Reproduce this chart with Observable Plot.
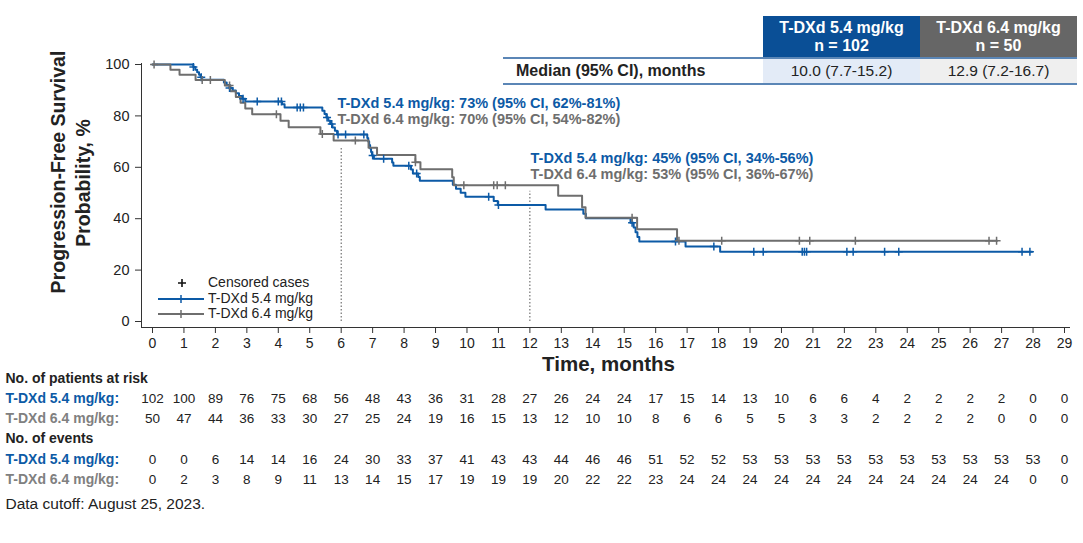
<!DOCTYPE html>
<html><head><meta charset="utf-8">
<script src="https://cdn.jsdelivr.net/npm/d3@7"></script>
<script src="https://cdn.jsdelivr.net/npm/@observablehq/plot@0.6"></script>
<style>
body{margin:0;background:#fff;font-family:"Liberation Sans",Arial,Helvetica,sans-serif;color:#222;}
#wrap{position:relative;width:1083px;height:543px;overflow:hidden;}
#chart{position:absolute;left:0;top:0;}
.cell{position:absolute;display:flex;align-items:center;justify-content:center;text-align:center;font-size:15.5px;box-sizing:border-box;}
.hline{position:absolute;height:2px;background:#5b86b6;}
</style></head><body>
<div id="wrap"><div id="chart"></div><div id="tbl"></div><div id="legend"></div></div>
<script>
// ---------- data ----------
const arms = ["T-DXd 5.4 mg/kg", "T-DXd 6.4 mg/kg"];
const armN = [102, 50];
const medians = ["10.0 (7.7-15.2)", "12.9 (7.2-16.7)"];
const medianLabel = "Median (95% CI), months";
const blueColor = "#0c5aa6", grayColor = "#6e6e6e";

// Kaplan-Meier step points (time in months, PFS %)
const blueT = [0, 1.30, 1.36, 1.42, 1.48, 1.53, 1.58, 2.27, 2.36, 2.45, 2.55, 2.65, 2.75, 2.85, 2.95, 4.12, 4.20,
  5.40, 5.47, 5.53, 5.59, 5.65, 5.72, 5.80, 5.87, 6.83, 6.86, 6.89, 6.92, 6.95, 6.98, 7.04, 7.62, 7.66,
  8.22, 8.28, 8.45, 8.50, 9.55, 9.65, 9.80, 9.95, 10.85, 10.98, 12.50, 13.70, 13.78,
  15.20, 15.30, 15.36, 15.42, 15.48, 16.95, 18.05, 27.97];
const blueS = [100, 99.0, 98.0, 97.0, 96.0, 95.0, 94.1, 93.0, 92.0, 90.9, 89.9, 88.8, 87.7, 86.7, 85.6, 84.5, 83.3,
  82.0, 80.7, 79.4, 78.1, 76.8, 75.5, 74.2, 72.8, 71.4, 70.0, 68.7, 67.3, 66.0, 64.6, 63.3, 61.9, 60.6,
  59.1, 57.6, 56.2, 54.8, 53.2, 51.7, 50.1, 48.5, 46.9, 45.3, 43.6, 41.9, 40.2,
  38.4, 36.6, 34.7, 32.9, 31.1, 29.2, 27.1, 27.1];
const grayT = [0, 0.57, 0.86, 1.37, 2.30, 2.48, 2.65, 2.80, 2.95, 3.17, 4.07, 4.33, 5.34, 5.76, 6.87, 7.14,
  8.36, 8.52, 9.53, 9.58, 12.90, 13.66, 13.77, 15.41, 16.68, 26.86];
const grayS = [100, 98, 96, 94, 91.8, 89.6, 87.4, 85.1, 82.9, 80.6, 78.1, 75.6, 73.0, 70.4, 67.6, 64.8,
  62.0, 59.2, 56.1, 53.0, 48.9, 44.5, 40.4, 35.9, 31.4, 31.4];
// censored cases (months)
const blueCens = [1.30, 1.55, 2.45, 2.88, 3.33, 4.00, 4.10, 4.60, 4.70, 4.80, 5.55, 5.70, 5.90, 6.14, 6.72, 7.00, 7.35,
  8.15, 8.40, 10.69, 11.00, 15.25, 16.63, 17.85, 19.12, 19.42, 20.66, 20.73, 20.80, 22.08, 22.28, 23.28, 23.73, 27.65, 27.90];
const grayCens = [0.05, 1.58, 1.84, 2.45, 3.94, 5.40, 6.45, 8.36, 9.90, 10.85, 10.96, 11.22,
  15.25, 16.74, 18.10, 20.57, 20.90, 22.35, 26.60, 26.84];

// landmark lines
const landmarkT = [6, 12];
const landmarkS = [70.4, 53.0];

// annotations
const annotBlue = ["T-DXd 5.4 mg/kg: 73% (95% CI, 62%-81%)", "T-DXd 5.4 mg/kg: 45% (95% CI, 34%-56%)"];
const annotGray = ["T-DXd 6.4 mg/kg: 70% (95% CI, 54%-82%)", "T-DXd 6.4 mg/kg: 53% (95% CI, 36%-67%)"];
const annotT = [5.88, 12.02];
const annotYBlue = [84.8, 63.4];
const annotYGray = [78.6, 57.2];

// axes
const months = d3.range(0, 30);
const yTicks = [0, 20, 40, 60, 80, 100];

// risk table
const riskBlue = [102,100,89,76,75,68,56,48,43,36,31,28,27,26,24,24,17,15,14,13,10,6,6,4,2,2,2,2,0,0];
const riskGray = [50,47,44,36,33,30,27,25,24,19,16,15,13,12,10,10,8,6,6,5,5,3,3,2,2,2,2,0,0,0];
const eventsBlue = [0,0,6,14,14,16,24,30,33,37,41,43,43,44,46,46,51,52,52,53,53,53,53,53,53,53,53,53,53,0];
const eventsGray = [0,2,3,8,9,11,13,14,15,17,19,19,19,20,22,22,23,24,24,24,24,24,24,24,24,24,24,24,0,0];

// ---------- helpers ----------
const curve = (T, S) => T.map((t, i) => ({t, s: S[i]}));
const survAt = (T, S) => t => { let s = S[0]; for (let i = 0; i < T.length; i++) if (T[i] <= t) s = S[i]; return s; };
const bS = survAt(blueT, blueS), gS = survAt(grayT, grayS);
const plusSym = {draw(ctx, size) { const r = Math.sqrt(size / Math.PI); ctx.moveTo(-r, 0); ctx.lineTo(r, 0); ctx.moveTo(0, -r); ctx.lineTo(0, r); }};
const row = arr => months.map((m, i) => ({m, v: arr[i]}));
const font = '"Liberation Sans", Arial, Helvetica, sans-serif';
const FS = 14, NS = 13.5;

const chart = Plot.plot({
  width: 1083, height: 543,
  marginLeft: 152, marginRight: 19, marginTop: 64, marginBottom: 222,
  x: {domain: [0, 29]}, y: {domain: [0, 100]},
  style: {fontFamily: font, fontSize: "14px", color: "#222", background: "transparent", overflow: "visible"},
  marks: [
    Plot.ruleY([0], {dy: 6, insetLeft: -11, insetRight: -6, stroke: "#333"}),
    Plot.ruleX([0], {dx: -11, insetTop: -1, insetBottom: -6, stroke: "#333"}),
    Plot.axisX(months, {anchor: "bottom", tickSize: 6, dy: 6, tickPadding: 5, fontSize: FS, label: null, tickFormat: d => String(d), stroke: "#333"}),
    Plot.axisY(yTicks, {anchor: "left", tickSize: 6, dx: -11, tickPadding: 6, fontSize: 14.5, label: null, stroke: "#333"}),
    Plot.ruleX(landmarkT.map((t, i) => ({t, s: landmarkS[i]})), {x: "t", y1: 0, y2: "s", stroke: "#555", strokeDasharray: "1.5,2", insetBottom: -6}),
    Plot.line(curve(blueT, blueS), {x: "t", y: "s", curve: "step-after", stroke: blueColor, strokeWidth: 2}),
    Plot.line(curve(grayT, grayS), {x: "t", y: "s", curve: "step-after", stroke: grayColor, strokeWidth: 2}),
    Plot.dot(blueCens, {x: d => d, y: d => bS(d), symbol: plusSym, r: 4, stroke: blueColor, strokeWidth: 1.5}),
    Plot.dot(grayCens, {x: d => d, y: d => gS(d), symbol: plusSym, r: 4, stroke: grayColor, strokeWidth: 1.5}),
    Plot.text(annotBlue, {x: (d, i) => annotT[i], y: (d, i) => annotYBlue[i], textAnchor: "start", fill: blueColor, fontWeight: "bold", fontSize: 14.5}),
    Plot.text(annotGray, {x: (d, i) => annotT[i], y: (d, i) => annotYGray[i], textAnchor: "start", fill: grayColor, fontWeight: "bold", fontSize: 14.5}),
    // axis titles
    Plot.text(["Time, months"], {frameAnchor: "bottom", dy: 49, fontSize: 20.5, fontWeight: "bold", fill: "#222"}),
    Plot.text(["Progression-Free Survival"], {frameAnchor: "left", textAnchor: "middle", rotate: -90, dx: -94, dy: -21, fontSize: 19.5, fontWeight: "bold", fill: "#222"}),
    Plot.text(["Probability, %"], {frameAnchor: "left", textAnchor: "middle", rotate: -90, dx: -69, dy: -10, fontSize: 19.5, fontWeight: "bold", fill: "#222"}),
    // risk table
    Plot.text(["No. of patients at risk"], {frameAnchor: "bottom-left", dx: -147, dy: 61, textAnchor: "start", fontWeight: "bold", fontSize: FS, fill: "#222"}),
    Plot.text([arms[0] + ":"], {frameAnchor: "bottom-left", dx: -147, dy: 81, textAnchor: "start", fontWeight: "bold", fontSize: FS, fill: blueColor}),
    Plot.text([arms[1] + ":"], {frameAnchor: "bottom-left", dx: -147, dy: 101, textAnchor: "start", fontWeight: "bold", fontSize: FS, fill: "#808080"}),
    Plot.text(["No. of events"], {frameAnchor: "bottom-left", dx: -147, dy: 121, textAnchor: "start", fontWeight: "bold", fontSize: FS, fill: "#222"}),
    Plot.text([arms[0] + ":"], {frameAnchor: "bottom-left", dx: -147, dy: 142, textAnchor: "start", fontWeight: "bold", fontSize: FS, fill: blueColor}),
    Plot.text([arms[1] + ":"], {frameAnchor: "bottom-left", dx: -147, dy: 162, textAnchor: "start", fontWeight: "bold", fontSize: FS, fill: "#808080"}),
    Plot.text(row(riskBlue), {x: "m", text: "v", frameAnchor: "bottom", dy: 81, fontSize: NS, fill: "#222"}),
    Plot.text(row(riskGray), {x: "m", text: "v", frameAnchor: "bottom", dy: 101, fontSize: NS, fill: "#222"}),
    Plot.text(row(eventsBlue), {x: "m", text: "v", frameAnchor: "bottom", dy: 142, fontSize: NS, fill: "#222"}),
    Plot.text(row(eventsGray), {x: "m", text: "v", frameAnchor: "bottom", dy: 162, fontSize: NS, fill: "#222"}),
    Plot.text(["Data cutoff: August 25, 2023."], {frameAnchor: "bottom-left", dx: -147, dy: 187, textAnchor: "start", fontSize: 15.5, fill: "#222"})
  ]
});
document.getElementById("chart").appendChild(chart);

// median table
const tbl = document.getElementById("tbl");
const headBg = ["#0a4f96", "#666666"], rowBg = ["#e3ebf7", "#efefef"];
let html = `<div class="hline" style="left:503px;top:57px;width:574px"></div><div class="hline" style="left:503px;top:83px;width:574px"></div>`;
html += `<div class="cell" style="left:503px;top:59px;width:260px;height:24px;justify-content:flex-start;padding-left:13px;font-weight:bold;font-size:16px">${medianLabel}</div>`;
arms.forEach((a, i) => {
  const left = 763 + i * 157;
  html += `<div class="cell" style="left:${left}px;top:16px;width:157px;height:41px;background:${headBg[i]};color:#fff;font-weight:bold;font-size:16px;line-height:18px">${a}<br>n = ${armN[i]}</div>`;
  html += `<div class="cell" style="left:${left}px;top:59px;width:157px;height:24px;background:${rowBg[i]}">${medians[i]}</div>`;
});
tbl.innerHTML = html;

// legend
document.getElementById("legend").innerHTML = `
<svg style="position:absolute;left:150px;top:272px" width="200" height="52" font-family='${font}' font-size="14">
  <path d="M28,11h8M32,7v8" stroke="#111" stroke-width="1.6"/>
  <text x="58" y="11" dominant-baseline="middle" fill="#222">Censored cases</text>
  <line x1="8" x2="54" y1="27" y2="27" stroke="${blueColor}" stroke-width="2"/>
  <path d="M27,27h8M31,23v8" stroke="${blueColor}" stroke-width="1.5"/>
  <text x="58" y="27" dominant-baseline="middle" fill="#222">${arms[0]}</text>
  <line x1="8" x2="54" y1="42" y2="42" stroke="${grayColor}" stroke-width="2"/>
  <path d="M27,42h8M31,38v8" stroke="${grayColor}" stroke-width="1.5"/>
  <text x="58" y="42" dominant-baseline="middle" fill="#222">${arms[1]}</text>
</svg>`;
</script>
</body></html>
